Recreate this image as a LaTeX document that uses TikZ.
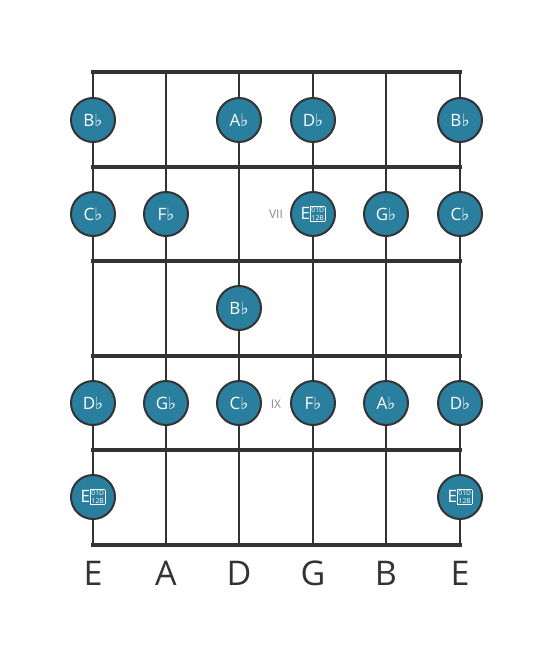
\documentclass[tikz,border=0pt]{standalone}
\usepackage{fontspec}
\setmainfont{Open Sans}
\newfontfamily\symfont{DejaVu Sans}
\definecolor{gridgray}{HTML}{333333}
\definecolor{dotblue}{HTML}{2A7F9E}
\definecolor{labelgray}{HTML}{8A8A8A}
\newcommand{\fl}{{\symfont\char"266D}}
\newcommand{\tofu}{{\setlength{\fboxsep}{0.7pt}\setlength{\fboxrule}{0.5pt}\raisebox{-0.5pt}{\fbox{\fontsize{6.8}{6.6}\selectfont\shortstack{01D\\12B}}}}}
\tikzset{
  fret/.style={line width=4.5pt, draw=gridgray},
  gstring/.style={line width=2.5pt, draw=gridgray},
  note/.style={circle, minimum size=44pt, inner sep=0pt, fill=dotblue, draw=gridgray, line width=2pt, text=white, font=\fontsize{17}{17}\selectfont},
  fretnum/.style={text=labelgray, font=\fontsize{12}{12}\selectfont},
  stringname/.style={text=gridgray, font=\fontsize{34}{34}\selectfont}
}
\begin{document}
\begin{tikzpicture}[x=1pt,y=-1pt]
  \useasboundingbox (0,0) rectangle (553,656);
  % strings
  \foreach \x in {93,166,239,313,386,460}
    \draw[gstring] (\x,72) -- (\x,545);
  % frets
  \foreach \y in {72,167,261,356,450,545}
    \draw[fret] (91,\y) -- (462,\y);
  % fret numbers
  \node[fretnum] (vii) at (276,214) {VII};
  \node[fretnum] (ix) at (276,404) {IX};
  % notes
  \node[note] (bbA) at (93,120) {B\fl};
  \node[note] (abA) at (239,120) {A\fl};
  \node[note] (dbA) at (313,120) {D\fl};
  \node[note] (bbB) at (460,120) {B\fl};
  \node[note] (cbA) at (93,214) {C\fl};
  \node[note] (fbA) at (166,214) {F\fl};
  \node[note] (ebbA) at (313,214) {E\tofu};
  \node[note] (gbA) at (386,214) {G\fl};
  \node[note] (cbB) at (460,214) {C\fl};
  \node[note] (bbC) at (239,308) {B\fl};
  \node[note] (dbB) at (93,403) {D\fl};
  \node[note] (gbB) at (166,403) {G\fl};
  \node[note] (cbC) at (239,403) {C\fl};
  \node[note] (fbB) at (313,403) {F\fl};
  \node[note] (abB) at (386,403) {A\fl};
  \node[note] (dbC) at (460,403) {D\fl};
  \node[note] (ebbB) at (93,497) {E\tofu};
  \node[note] (ebbC) at (460,497) {E\tofu};
  % string names
  \node[stringname] (sE) at (93,573) {E};
  \node[stringname] (sA) at (166,573) {A};
  \node[stringname] (sD) at (239,573) {D};
  \node[stringname] (sG) at (313,573) {G};
  \node[stringname] (sB) at (386,573) {B};
  \node[stringname] (se) at (460,573) {E};
\end{tikzpicture}
\end{document}
